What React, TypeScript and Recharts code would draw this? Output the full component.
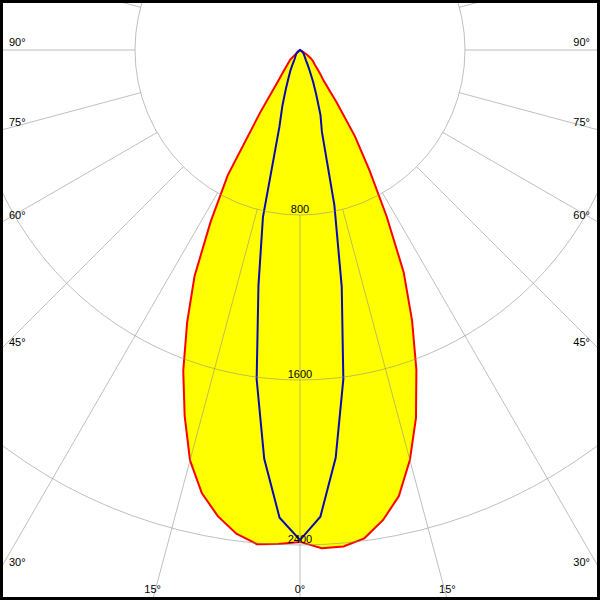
import React from 'react';
import { RadarChart, Radar, PolarGrid, PolarAngleAxis, PolarRadiusAxis } from 'recharts';

// gamma (deg) measured from nadir, negative = left half of the diagram
const gammas = [
  -90, -87.5, -85, -82.5, -80, -77.5, -75, -72.5, -70, -67.5, -65, -62.5,
  -60, -57.5, -55, -52.5, -50, -47.5, -45, -42.5, -40, -37.5, -35, -32.5,
  -30, -27.5, -25, -22.5, -20, -17.5, -15, -12.5, -10, -7.5, -5, -2.5,
  0, 2.5, 5, 7.5, 10, 12.5, 15, 17.5, 20, 22.5, 25, 27.5,
  30, 32.5, 35, 37.5, 40, 42.5, 45, 47.5, 50, 52.5, 55, 57.5,
  60, 62.5, 65, 67.5, 70, 72.5, 75, 77.5, 80, 82.5, 85, 87.5, 90,
];

// cd/klm, C0-C180 plane (red, filled)
const planeC0 = [
  0, 0, 0, 0, 0, 0, 0, 0, 0, 0, 0, 0,
  0, 0, 0, 0, 5, 25, 68, 83, 100, 132, 187, 360,
  700, 938, 1210, 1430, 1655, 1860, 2060, 2200, 2295, 2365, 2405, 2398,
  2385, 2418, 2416, 2388, 2315, 2215, 2058, 1870, 1650, 1420, 1190, 910,
  675, 495, 309, 190, 155, 125, 103, 90, 80, 65, 45, 25,
  10, 0, 0, 0, 0, 0, 0, 0, 0, 0, 0, 0, 0,
];

// cd/klm, C90-C270 plane (blue)
const planeC90 = [
  0, 0, 0, 0, 0, 0, 0, 0, 0, 0, 0, 0,
  0, 3, 8, 12, 15, 20, 25, 28, 30, 35, 40, 45,
  55, 78, 110, 145, 200, 285, 385, 830, 1160, 1610, 1990, 2270,
  2376, 2265, 1985, 1610, 1165, 770, 410, 330, 230, 165, 112, 80,
  58, 47, 40, 35, 30, 28, 25, 20, 15, 12, 8, 3,
  0, 0, 0, 0, 0, 0, 0, 0, 0, 0, 0, 0, 0,
];

const spokes = [0, 15, 30, 45, 60, 75, 90, 105, 120, 135, 150, 165, 180, 195, 210, 225, 240, 255, 270, 285, 300, 315, 330, 345];
const rings = [800, 1600, 2400];

const W = 600;
const H = 600;
const CX = 300;
const CY = 50;
const PX_PER_CD = 165 / 800;
const GRID_OUTER = 720;
const NO_MARGIN = { top: 0, right: 0, bottom: 0, left: 0 };
const FONT = '"Liberation Sans", Arial, sans-serif';

const STEP = gammas[1] - gammas[0];
const lobeData = gammas.map((g, i) => ({ gamma: g, c0: planeC0[i], c90: planeC90[i] }));
const spokeData = spokes.map((s) => ({ gamma: s }));

const innerRing = rings[0] * PX_PER_CD;
const gridMax = rings[0] + (GRID_OUTER - innerRing) / PX_PER_CD;
// radar places category i one band past the range start, so start one band early
const lobeStart = -90 + gammas[0] - STEP;

// angle labels sit where each spoke leaves the frame
const AngleTick = (props: any) => {
  const v = Number(props.payload?.value);
  const shown = v <= 90 ? v : v >= 270 ? 360 - v : null;
  if (shown === null) return <g />;
  const rad = ((-90 + v) * Math.PI) / 180;
  const dx = Math.cos(rad);
  const dy = -Math.sin(rad);
  const tx = dx > 1e-6 ? (W - CX) / dx : dx < -1e-6 ? -CX / dx : Infinity;
  const ty = dy > 1e-6 ? (H - CY) / dy : Infinity;
  const style = { fontSize: 11, fontFamily: FONT, fill: '#000' };
  if (ty <= tx) {
    const x = CX + dx * ty;
    return <text x={x} y={593} textAnchor="middle" {...style}>{`${shown}°`}</text>;
  }
  const y = CY + dy * tx;
  if (dx < 0) return <text x={9} y={y - 4} textAnchor="start" {...style}>{`${shown}°`}</text>;
  return <text x={590} y={y - 4} textAnchor="end" {...style}>{`${shown}°`}</text>;
};

const RingTick = (props: any) => (
  <text x={props.x} y={props.y - 2} textAnchor="middle" fontSize={11} fontFamily={FONT} fill="#000">
    {props.payload?.value}
  </text>
);

export default function App() {
  return (
    <div style={{ position: 'absolute', left: 0, top: 0, width: W, height: H, overflow: 'hidden', background: '#fff' }}>
      <div style={{ position: 'absolute', left: 0, top: 0 }}>
        <RadarChart
          width={W}
          height={H}
          data={lobeData}
          cx={CX}
          cy={CY}
          innerRadius={0}
          outerRadius={rings[2] * PX_PER_CD}
          startAngle={lobeStart}
          endAngle={lobeStart + STEP * gammas.length}
          margin={NO_MARGIN}
        >
          <PolarAngleAxis dataKey="gamma" tick={false} axisLine={false} tickLine={false} />
          <PolarRadiusAxis type="number" domain={[0, rings[2]]} allowDataOverflow tick={false} axisLine={false} tickLine={false} />
          <Radar dataKey="c0" stroke="#ff0000" strokeWidth={2} fill="#ffff00" fillOpacity={1} dot={false} isAnimationActive={false} />
          <Radar dataKey="c90" stroke="#0a0ab4" strokeWidth={2} fill="none" fillOpacity={0} dot={false} isAnimationActive={false} />
        </RadarChart>
      </div>
      <div style={{ position: 'absolute', left: 0, top: 0 }}>
        <RadarChart
          width={W}
          height={H}
          data={spokeData}
          cx={CX}
          cy={CY}
          innerRadius={innerRing}
          outerRadius={GRID_OUTER}
          startAngle={-90}
          endAngle={270}
          margin={NO_MARGIN}
        >
          <PolarGrid gridType="circle" stroke="#8a8a8a" strokeOpacity={0.55} />
          <PolarAngleAxis dataKey="gamma" axisLine={false} tickLine={false} tick={AngleTick} />
          <PolarRadiusAxis
            type="number"
            angle={-90}
            domain={[rings[0], gridMax]}
            allowDataOverflow
            ticks={rings}
            axisLine={false}
            tickLine={false}
            tick={RingTick}
          />
          <Radar dataKey={() => rings[0]} stroke="none" fill="none" dot={false} isAnimationActive={false} />
        </RadarChart>
      </div>
      <div style={{ position: 'absolute', left: 0, top: 0, width: W, height: H, border: '3px solid #000', boxSizing: 'border-box' }} />
    </div>
  );
}
